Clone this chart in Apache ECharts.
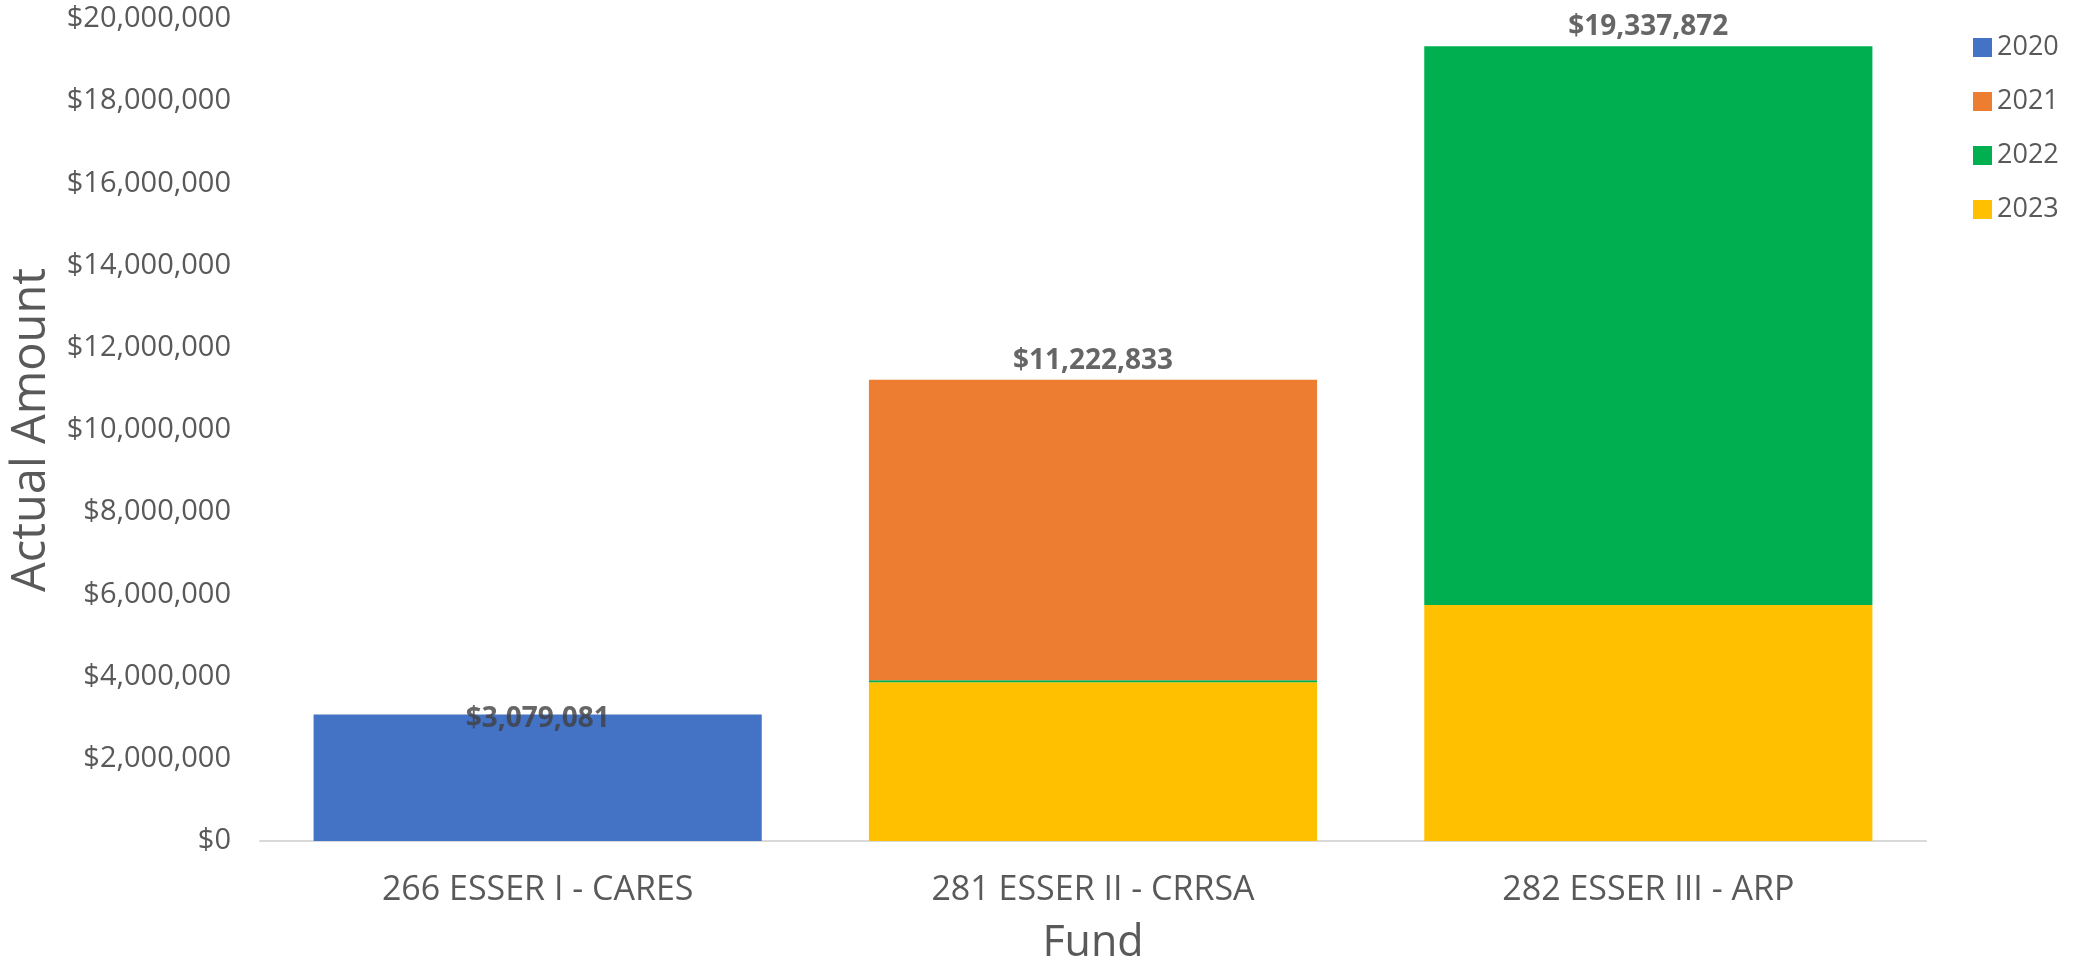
<!DOCTYPE html>
<html>
<head>
<meta charset="utf-8">
<script src="https://cdn.jsdelivr.net/npm/echarts@6/dist/echarts.min.js"></script>
<style>
html,body{margin:0;padding:0;background:#fff;}
#chart{width:2076px;height:970px;}
</style>
</head>
<body>
<div id="chart"></div>
<script>
// ---- data ----
const categories = ['266 ESSER I - CARES', '281 ESSER II - CRRSA', '282 ESSER III - ARP'];
const years = ['2020', '2021', '2022', '2023'];
const values2020 = [3079081, 0, 0];
const values2021 = [0, 7312833, 0];
const values2022 = [0, 50000, 13592872];
const values2023 = [0, 3860000, 5745000];
const totals = [3079081, 11222833, 19337872];
const yTicks = { min: 0, max: 20000000, interval: 2000000 };

// ---- styles ----
const colors = { '2020': '#4472C4', '2021': '#ED7D31', '2022': '#00B050', '2023': '#FFC000' };
const FONT = '"Open Sans", sans-serif';
const money = v => '$' + Math.round(v).toLocaleString('en-US');

const seriesData = { '2020': values2020, '2021': values2021, '2022': values2022, '2023': values2023 };
// stacking order bottom -> top
const stackOrder = ['2023', '2022', '2021', '2020'];

const barSeries = stackOrder.map(y => ({
  name: y,
  type: 'bar',
  stack: 'total',
  barCategoryGap: '19.3%',
  itemStyle: { color: colors[y] },
  data: seriesData[y].map(v => (v === 0 ? null : v))
}));

const totalSeries = {
  name: 'Total',
  type: 'scatter',
  symbolSize: 0,
  silent: true,
  z: 10,
  data: totals.map((v, i) => {
    const d = { value: v };
    if (i === 0) d.label = { position: 'inside', offset: [0, 5] };
    return d;
  }),
  label: {
    show: true,
    position: 'top',
    distance: 5,
    formatter: p => money(p.value),
    fontFamily: FONT,
    fontSize: 28,
    fontWeight: 'bold',
    color: '#404040'
  }
};

const chart = echarts.init(document.getElementById('chart'));
chart.setOption({
  animation: false,
  backgroundColor: '#ffffff',
  textStyle: { fontFamily: FONT },
  grid: { left: 257, right: 150, top: 19, bottom: 122, containLabel: false },
  legend: {
    data: years,
    orient: 'vertical',
    left: 1968,
    top: 29,
    itemWidth: 19,
    itemHeight: 19,
    itemGap: 27,
    icon: 'rect',
    textStyle: { fontFamily: FONT, fontSize: 27, color: '#595959', lineHeight: 27, padding: [0, 0, 0, 0] }
  },
  xAxis: {
    type: 'category',
    data: categories,
    name: 'Fund',
    nameLocation: 'middle',
    nameGap: 81,
    nameTextStyle: { fontFamily: FONT, fontSize: 43, color: '#595959' },
    axisLine: { show: true, lineStyle: { color: '#D9D9D9', width: 2 } },
    axisTick: { show: false },
    axisLabel: { margin: 32, fontFamily: FONT, fontSize: 34, color: '#595959' }
  },
  yAxis: {
    type: 'value',
    min: yTicks.min,
    max: yTicks.max,
    interval: yTicks.interval,
    name: 'Actual Amount',
    nameLocation: 'middle',
    nameGap: 205,
    nameRotate: 90,
    nameTextStyle: { fontFamily: FONT, fontSize: 47, color: '#595959' },
    axisLine: { show: false },
    axisTick: { show: false },
    splitLine: { show: false },
    axisLabel: { margin: 29, fontFamily: FONT, fontSize: 29, color: '#595959', formatter: v => money(v) }
  },
  series: [...barSeries, totalSeries]
});
</script>
</body>
</html>
